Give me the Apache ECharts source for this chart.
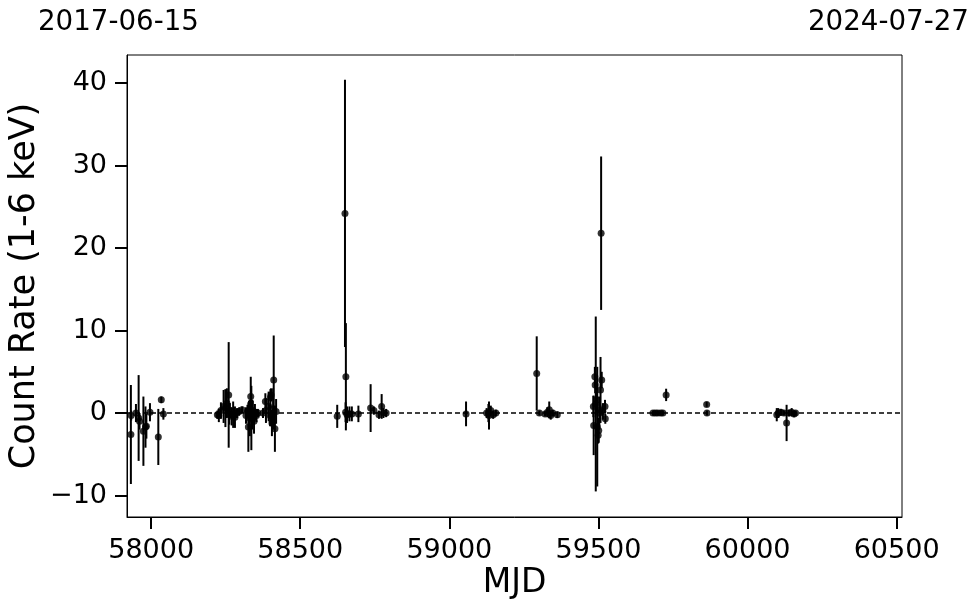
<!DOCTYPE html>
<html>
<head>
<meta charset="utf-8">
<script src="https://cdn.jsdelivr.net/npm/echarts@6/dist/echarts.min.js"></script>
<style>html,body{margin:0;padding:0;background:#fff}#c{width:980px;height:613px}</style>
</head>
<body>
<div id="c"></div>
<script>
// MJD of each observation
var mjd = [
  57932, 57933, 57949, 57958, 57961, 57974, 57981, 57984, 57996, 58024, 58034, 58041,
  58222, 58227, 58234, 58243, 58249, 58254, 58260, 58262, 58264, 58270, 58275, 58281, 58288, 58295, 58305,
  58318, 58323, 58326, 58328, 58331, 58334, 58336, 58339, 58341, 58345, 58348, 58353, 58358,
  58375, 58383, 58385, 58394, 58399, 58400, 58402, 58405, 58409, 58411, 58415, 58419,
  58624, 58650, 58653, 58652, 58657, 58665, 58673, 58695, 58736, 58747, 58764, 58773, 58779, 58788,
  59056, 59125, 59131, 59133, 59139, 59147, 59156,
  59293, 59302, 59321, 59329, 59335, 59340, 59347, 59362,
  59483, 59484, 59488, 59489, 59491, 59494, 59496, 59499, 59501, 59503, 59505, 59507, 59509, 59511, 59515, 59522, 59523,
  59683, 59691, 59699, 59709, 59716, 59727,
  59863, 59864,
  60098, 60103, 60112, 60122, 60131, 60139, 60148, 60156, 60161
];
// count rate (1-6 keV)
var rate = [
  -2.6, -0.3, 0.0, -0.6, -1.0, -2.2, -1.7, -1.6, 0.1, -2.9, 1.6, -0.1,
  -0.2, -0.3, 0.3, 0.8, 0.6, 1.2, 2.2, -0.1, 0.3, -0.4, -0.2, -0.5, 0.0, 0.2, 0.4,
  -0.3, 0.2, -1.7, 0.0, -0.6, 2.0, -0.6, -0.2, 0.3, -1.0, 0.1, -0.3, 0.0,
  0.0, 1.4, 0.3, 0.8, -0.3, 1.9, 2.2, -1.2, 0.5, 4.0, -1.9, 0.2,
  -0.4, 24.2, 4.4, 0.1, -0.2, -0.1, -0.1, -0.1, 0.6, 0.3, -0.2, 0.8, 0.0, 0.0,
  -0.1, 0.0, 0.0, -0.3, 0.3, -0.2, 0.0,
  4.8, 0.0, -0.1, 0.1, 0.4, -0.3, 0.0, -0.2,
  0.8, -1.5, 4.4, 3.4, 1.1, 1.6, -1.65, -2.7, -2.1, 0.0, 0.4, 2.8, 21.8, 4.0, 0.2, 0.8, -0.7,
  0.0, 0.0, 0.0, 0.0, 0.0, 2.2,
  1.05, 0.0,
  -0.2, 0.0, 0.1, 0.0, -1.2, 0.0, 0.1, -0.1, 0.0
];
// 1-sigma errors
var err = [
  6.0, 0.6, 1.1, 5.2, 1.0, 4.2, 2.5, 1.5, 1.1, 3.4, 0.4, 0.7,
  0.5, 0.8, 1.0, 2.0, 2.3, 1.8, 6.4, 1.3, 0.9, 1.1, 1.6, 1.3, 0.6, 0.5, 0.4,
  1.0, 0.8, 3.0, 1.5, 2.2, 2.4, 3.9, 1.8, 1.2, 1.5, 1.0, 0.8, 0.5,
  0.6, 1.0, 1.5, 1.8, 1.3, 1.0, 0.8, 1.6, 2.5, 5.4, 2.8, 1.5,
  1.4, 16.2, 6.5, 1.2, 1.0, 0.9, 0.9, 1.0, 2.9, 0.5, 0.5, 1.5, 0.6, 0.5,
  1.5, 0.6, 1.1, 1.7, 0.6, 0.5, 0.4,
  4.5, 0.3, 0.3, 0.6, 1.0, 0.5, 0.4, 0.4,
  1.3, 3.6, 1.2, 1.0, 10.6, 1.5, 7.25, 1.0, 1.5, 2.0, 1.5, 4.0, 9.3, 1.0, 1.0, 0.8, 0.6,
  0.3, 0.3, 0.3, 0.3, 0.3, 0.75,
  0.3, 0.3,
  0.8, 0.6, 0.4, 0.3, 2.2, 0.4, 0.5, 0.4, 0.3
];
var xTicks = [58000, 58500, 59000, 59500, 60000, 60500];
var yTicks = [-10, 0, 10, 20, 30, 40];
var topLabels = ['2017-06-15', '2024-07-27'];

var pts = mjd.map(function (m, i) { return [m, rate[i], err[i]]; });
var FONT = 'DejaVu Sans';

var chart = echarts.init(document.getElementById('c'));
chart.setOption({
  animation: false,
  backgroundColor: '#fff',
  title: [
    { text: topLabels[0], left: 33, top: 4, textStyle: { fontFamily: FONT, fontSize: 27.7, fontWeight: 'normal', color: '#000' } },
    { text: topLabels[1], left: 803, top: 4, textStyle: { fontFamily: FONT, fontSize: 27.7, fontWeight: 'normal', color: '#000' } }
  ],
  grid: { left: 127, right: 78, top: 55, bottom: 96, show: true, borderColor: '#000', borderWidth: 1,
    backgroundColor: 'transparent', containLabel: false, outerBoundsMode: 'none' },
  xAxis: {
    type: 'value', min: 57919, max: 60518,
    name: 'MJD', nameLocation: 'middle', nameGap: 50, nameMoveOverlap: false,
    nameTextStyle: { fontFamily: FONT, fontSize: 33, color: '#000' },
    axisLine: { show: true, onZero: false, lineStyle: { color: '#000', width: 1 } },
    axisTick: { show: true, inside: false, length: 12, lineStyle: { color: '#000', width: 2 }, customValues: xTicks },
    axisLabel: { fontFamily: FONT, fontSize: 27, color: '#000', margin: 20, customValues: xTicks,
      formatter: function (v) { return String(v); } },
    splitLine: { show: false }
  },
  yAxis: {
    type: 'value', min: -12.6, max: 43.4,
    name: 'Count Rate (1-6 keV)', nameLocation: 'middle', nameGap: 85, nameMoveOverlap: false,
    nameTextStyle: { fontFamily: FONT, fontSize: 35, color: '#000' },
    axisLine: { show: true, onZero: false, lineStyle: { color: '#000', width: 1 } },
    axisTick: { show: true, inside: false, length: 12, lineStyle: { color: '#000', width: 2 }, customValues: yTicks },
    axisLabel: { fontFamily: FONT, fontSize: 27, color: '#000', margin: 20, customValues: yTicks,
      formatter: function (v) { return v < 0 ? '\u2212' + Math.abs(v) : String(v); } },
    splitLine: { show: false }
  },
  series: [
    {
      type: 'custom',
      data: pts,
      encode: { x: 0, y: 1 },
      clip: true,
      renderItem: function (params, api) {
        var x = api.value(0), y = api.value(1), e = api.value(2);
        var p1 = api.coord([x, y - e]);
        var p2 = api.coord([x, y + e]);
        return { type: 'line', shape: { x1: p1[0], y1: p1[1], x2: p2[0], y2: p2[1] },
          style: { stroke: '#000', lineWidth: 2 } };
      },
      z: 2
    },
    {
      type: 'scatter',
      data: pts.map(function (p) { return [p[0], p[1]]; }),
      symbol: 'circle', symbolSize: 7,
      itemStyle: { color: '#000' },
      z: 3,
      markLine: {
        silent: true, symbol: 'none', label: { show: false },
        lineStyle: { color: '#000', type: [5, 3], width: 1.5 },
        data: [{ yAxis: 0 }]
      }
    }
  ]
});
</script>
</body>
</html>
